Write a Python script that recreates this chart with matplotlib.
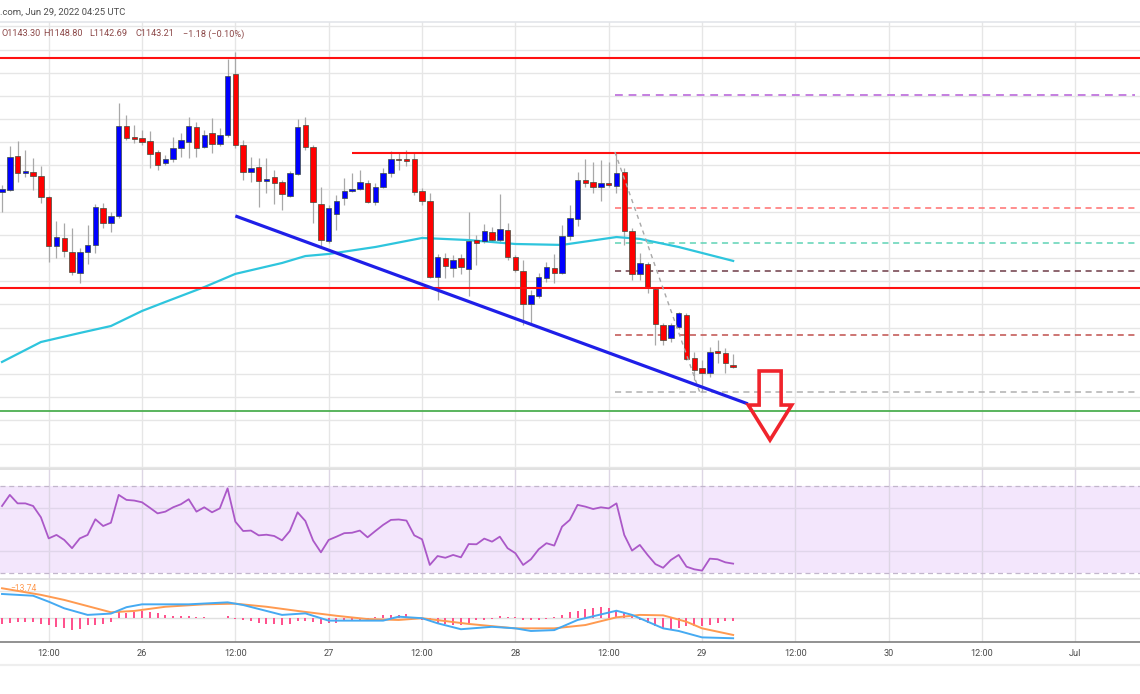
import matplotlib
matplotlib.use('Agg')
import matplotlib.pyplot as plt
from matplotlib.patches import Polygon
from matplotlib.lines import Line2D
from matplotlib.transforms import blended_transform_factory
import numpy as np

# ---------------- data ----------------
hours = list(range(-18, 77))   # hours relative to Jun 26 00:00 UTC (1h candles)
opens = [1218.6, 1219.4, 1234.1, 1226.8, 1227.2, 1225.5, 1216.4, 1195.2, 1198.7, 1192.7,
         1183.6, 1192.7, 1195.7, 1211.6, 1205.2, 1208.2, 1247.0, 1242.3, 1241.9, 1240.6,
         1235.8, 1231.1, 1232.8, 1237.5, 1240.1, 1246.6, 1238.0, 1244.0, 1239.3, 1243.2,
         1269.5, 1238.8, 1227.2, 1229.3, 1223.3, 1225.0, 1222.9, 1216.8, 1226.3, 1247.5,
         1238.0, 1213.4, 1197.4, 1209.1, 1216.0, 1219.0, 1219.8, 1222.4, 1214.2, 1220.7,
         1226.8, 1232.6, 1232.8, 1232.8, 1219.0, 1214.7, 1181.9, 1190.1, 1185.7, 1190.1,
         1185.3, 1197.8, 1197.4, 1201.3, 1197.8, 1202.2, 1190.5, 1184.5, 1170.2, 1173.7,
         1181.4, 1185.7, 1183.6, 1199.6, 1206.9, 1223.7, 1222.9, 1220.7, 1222.4, 1221.1,
         1227.2, 1201.7, 1183.2, 1187.5, 1176.7, 1161.1, 1155.5, 1160.3, 1165.5, 1146.9,
         1142.6, 1140.4, 1149.9, 1149.1, 1143.30]
highs = [1221.6, 1238.4, 1240.6, 1236.7, 1233.2, 1229.8, 1216.8, 1206.0, 1205.2, 1203.0,
         1194.4, 1204.3, 1213.4, 1213.8, 1209.9, 1257.0, 1251.8, 1247.5, 1245.3, 1244.9,
         1236.7, 1234.5, 1242.3, 1244.0, 1250.9, 1248.8, 1245.3, 1250.5, 1246.2, 1276.0,
         1279.0, 1241.0, 1233.7, 1233.2, 1233.2, 1228.0, 1223.7, 1227.6, 1250.1, 1250.9,
         1238.8, 1220.7, 1212.9, 1217.3, 1224.6, 1226.8, 1228.0, 1223.7, 1222.4, 1228.9,
         1236.2, 1235.4, 1236.7, 1235.8, 1220.3, 1218.1, 1191.8, 1192.2, 1191.4, 1191.8,
         1209.9, 1200.0, 1204.7, 1203.4, 1217.7, 1205.2, 1191.4, 1189.2, 1176.3, 1183.6,
         1188.3, 1191.8, 1204.3, 1212.9, 1227.2, 1232.8, 1231.5, 1232.4, 1231.5, 1235.8,
         1228.9, 1203.0, 1192.2, 1188.3, 1177.1, 1162.0, 1162.0, 1166.8, 1166.3, 1149.5,
         1146.0, 1151.7, 1154.7, 1151.2, 1148.80]
lows = [1209.9, 1219.0, 1222.9, 1225.0, 1219.4, 1213.8, 1188.3, 1190.1, 1190.5, 1182.7,
        1179.3, 1187.5, 1192.2, 1203.0, 1201.3, 1207.3, 1241.0, 1239.7, 1238.8, 1228.9,
        1228.0, 1230.2, 1231.5, 1233.7, 1233.2, 1233.7, 1237.5, 1235.4, 1238.4, 1242.3,
        1237.5, 1223.7, 1222.9, 1212.1, 1218.1, 1213.4, 1210.8, 1216.4, 1225.9, 1236.7,
        1205.2, 1195.2, 1196.5, 1202.2, 1212.9, 1218.6, 1219.4, 1213.8, 1212.9, 1220.3,
        1225.0, 1228.0, 1229.8, 1217.3, 1212.9, 1181.4, 1171.9, 1181.4, 1181.9, 1183.2,
        1173.7, 1187.0, 1196.5, 1197.0, 1196.5, 1189.2, 1184.0, 1161.1, 1162.0, 1172.8,
        1179.7, 1179.3, 1183.2, 1197.8, 1203.9, 1220.7, 1218.1, 1214.7, 1220.7, 1218.1,
        1195.7, 1180.6, 1180.6, 1175.0, 1152.5, 1152.5, 1153.8, 1159.4, 1146.0, 1137.4,
        1132.2, 1138.7, 1144.7, 1140.4, 1142.69]
closes = [1219.8, 1233.7, 1226.8, 1227.6, 1225.5, 1216.4, 1195.2, 1199.1, 1193.1, 1184.0,
          1192.7, 1195.7, 1212.1, 1205.2, 1208.2, 1247.0, 1241.9, 1241.4, 1240.1, 1235.0,
          1230.2, 1232.8, 1237.5, 1241.0, 1247.0, 1237.5, 1243.2, 1239.3, 1243.2, 1268.6,
          1238.8, 1227.2, 1228.9, 1223.3, 1224.2, 1222.4, 1217.7, 1226.8, 1246.6, 1238.0,
          1214.2, 1197.8, 1211.6, 1214.7, 1219.0, 1219.8, 1222.9, 1214.2, 1220.7, 1226.8,
          1232.8, 1232.4, 1231.9, 1218.6, 1214.7, 1181.9, 1190.5, 1186.6, 1189.2, 1186.2,
          1197.4, 1196.5, 1201.7, 1197.8, 1202.6, 1190.5, 1184.9, 1170.2, 1174.1, 1181.9,
          1186.2, 1183.6, 1199.6, 1207.3, 1223.7, 1222.4, 1220.7, 1222.4, 1221.6, 1226.8,
          1201.7, 1183.2, 1187.9, 1177.1, 1161.6, 1154.7, 1161.1, 1166.3, 1146.5, 1141.7,
          1140.4, 1149.5, 1149.1, 1144.7, 1143.21]

ma_hours = [-18, -13, -8, -4, 0, 3, 8, 12, 18, 21, 24, 30, 36, 42, 48, 54, 61, 64, 69, 76]
ma_values = [1145.2, 1153.8, 1157.7, 1160.7, 1167.2, 1171.1, 1177.5, 1183.2, 1187.9, 1190.9,
             1191.8, 1194.8, 1198.7, 1197.8, 1196.1, 1195.7, 1199.1, 1198.3, 1194.8, 1188.8]

rsi_values = [60.8, 65.9, 62.0, 62.0, 60.8, 55.6, 45.9, 47.5, 45.2, 41.4,
              45.9, 47.5, 54.7, 51.6, 53.1, 65.9, 63.6, 63.3, 62.5, 60.0,
              57.4, 58.2, 60.2, 61.6, 63.9, 58.2, 60.2, 57.9, 59.7, 68.9,
              53.6, 49.3, 49.5, 47.3, 47.6, 47.0, 45.0, 49.3, 57.9, 53.9,
              44.9, 39.5, 45.2, 46.7, 48.3, 48.5, 49.5, 46.4, 49.3, 52.1,
              54.4, 54.6, 54.1, 47.3, 45.5, 33.7, 37.8, 37.0, 38.3, 37.2,
              43.3, 43.2, 45.8, 44.4, 46.7, 41.4, 39.1, 33.7, 36.3, 40.9,
              43.7, 42.6, 51.3, 54.4, 61.3, 60.5, 59.4, 60.2, 59.7, 62.0,
              47.5, 40.3, 42.9, 38.3, 34.1, 32.4, 36.0, 38.3, 32.9, 31.7,
              31.1, 36.6, 36.3, 34.9, 34.3]

hist_values = [-2.6, -2.3, -2.0, -2.0, -1.8, -2.6, -3.3, -4.1, -4.5, -5.6,
               -5.2, -3.3, -3.0, -2.6, -1.8, 2.7, 2.3, 2.7, 3.2, 2.7,
               2.3, 1.5, 1.1, 0.8, 0.8, 0.5, 0.5, 0.2, 0.2, 0.9,
               -0.3, -0.8, -1.4, -2.3, -2.6, -2.9, -3.3, -2.6, -1.4, -1.4,
               -1.8, -2.6, -2.3, -2.1, -1.4, -0.8, -0.8, -0.5, 0.5, 1.2,
               1.3, 1.5, 1.8, 0.3, -0.8, -1.5, -2.3, -2.6, -3.3, -3.0,
               -2.3, -1.1, -0.8, -0.3, 1.1, 0.5, 0.5, -0.8, -1.1, -0.8,
               -0.3, 0.6, 1.4, 2.5, 3.4, 4.0, 4.7, 4.8, 4.4, 3.6,
               2.1, 1.4, -0.8, -2.3, -3.8, -4.5, -5.0, -4.5, -3.8, -3.8,
               -3.8, -3.0, -2.3, -1.5, -1.2]

macd_hours = [-18, -14, -12, -10, -7, -4, -2, 0, 6, 11, 13, 16, 18, 21, 23, 24, 31, 33, 36,
              38, 41, 45, 48, 50, 53, 56, 61, 63, 67, 69, 72, 76]
macd_values = [10.9, 10.1, 7.4, 4.4, 1.4, 2.0, 4.9, 6.2, 6.2, 7.1, 5.9, 3.2, 1.4, 2.1, -0.1,
               -1.2, -1.2, 0.6, -0.1, -2.4, -5.1, -4.0, -4.7, -5.9, -5.5, -0.9, 3.3, 1.4,
               -4.7, -5.9, -8.8, -9.2]
signal_hours = [-18, -13, -10, -4, -1, 3, 8, 12, 16, 20, 25, 29, 33, 36, 42, 48, 53, 57, 61,
                64, 67, 70, 72, 76]
signal_values = [13.5, 10.5, 8.2, 2.6, 3.2, 5.1, 6.2, 6.5, 5.1, 3.2, 1.0, -0.5, -0.9, -0.1,
                 -2.7, -4.7, -4.7, -3.2, 0.3, 1.4, 1.2, -1.7, -4.7, -7.7]

# horizontal levels
red_levels_full = [1276.4, 1177.1]
red_level_partial = 1235.4
red_partial_start = 27.0
green_level = 1124.0
fib_start = 60.8
fib_levels = [1260.4, 1235.4, 1211.6, 1196.5, 1184.5, 1156.8, 1132.2]
fib_colors = ['#c47fe0', '#8aa6c8', '#ff6f6f', '#5fd3b5', '#6e3b46', '#c0504d', '#b0b0b0']
fib_diag_h = [60.8, 71.7]
fib_diag_p = [1235.8, 1132.2]
trend_h = [12.0, 77.9]
trend_p = [1208.2, 1127.1]
arrow_h = [79.34, 82.17, 82.17, 83.53, 80.74, 77.95, 79.34]
arrow_p = [1141.3, 1141.3, 1126.6, 1126.6, 1111.5, 1126.6, 1126.6]

tick_hours = [-12, 0, 12, 24, 36, 48, 60, 72, 84, 96, 108, 120]
tick_labels = ['12:00', '26', '12:00', '27', '12:00', '28', '12:00', '29', '12:00', '30', '12:00', 'Jul']

header_text = '.com, Jun 29, 2022 04:25 UTC'
ohlc_parts = ['O1143.30', 'H1148.80', 'L1142.69', 'C1143.21', '\u22121.18 (\u22120.10%)']
macd_label = '\u221213.74'

# ---------------- layout ----------------
W, H = 1140, 694
fig = plt.figure(figsize=(W / 100, H / 100), dpi=100)
fig.patch.set_facecolor('white')
XMIN, XMAX = -18.26, 128.31
GRID = '#e6e6e6'
FONT = 'Roboto'


def rect(y0, y1):
    return [0, 1 - y1 / H, 1, (y1 - y0) / H]


def prep(ax, gridcolor=GRID, z=0):
    ax.set_xlim(XMIN, XMAX)
    ax.set_axis_off()
    for th in tick_hours:
        ax.axvline(th, color=gridcolor, lw=1.0, zorder=z)


# ---- main price pane ----
ax = fig.add_axes(rect(22, 469))
prep(ax)
ax.set_ylim(1099.0, 1291.9)
for p in range(1100, 1291, 10):
    ax.axhline(p, color=GRID, lw=1.0, zorder=0)

O = np.array(opens); Hh = np.array(highs); L = np.array(lows); C = np.array(closes)
up = C >= O
cols = np.where(up, '#0000ff', '#ff0000')
ax.vlines(hours, L, Hh, color='#a8a8a8', lw=0.9, zorder=3)
body = np.maximum(np.abs(C - O), 0.5)
ax.bar(hours, body, bottom=np.minimum(O, C), width=0.7, color=cols,
       edgecolor='#3d4d3d', linewidth=0.5, zorder=4)

for lv in red_levels_full:
    ax.axhline(lv, color='#ff1010', lw=1.5, zorder=5)
for lv, c in zip(fib_levels, fib_colors):
    ax.hlines(lv, fib_start, 127.7, color=c, lw=1.1 if c != '#c47fe0' else 1.4,
              linestyles=(0, (4, 3)), zorder=2)
ax.hlines(red_level_partial, red_partial_start, XMAX, color='#ff1010', lw=1.5, zorder=5)
ax.axhline(green_level, color='#4caf50', lw=1.3, zorder=2)
ax.plot(fib_diag_h, fib_diag_p, color='#a8a8a8', lw=1.0, ls=(0, (3, 3)), zorder=5)
ax.plot(ma_hours, ma_values, color='#2ec5dd', lw=1.6, zorder=3)
ax.plot(trend_h, trend_p, color='#1f1fe8', lw=2.3, zorder=6, solid_capstyle='butt')
ax.add_patch(Polygon(list(zip(arrow_h, arrow_p)), closed=True, fill=False,
                     edgecolor='#f0242c', lw=2.6, joinstyle='miter', zorder=7))

# ---- RSI pane ----
ax2 = fig.add_axes(rect(469, 579))
prep(ax2, gridcolor='#ddd6e4', z=1)
ax2.set_ylim(27.24, 77.8)
ax2.axhspan(30, 70, color='#f3e6fc', zorder=0.2, lw=0)
for lv in (60, 40):
    ax2.axhline(lv, color='#e0d6ea', lw=1.0, zorder=1)
for lv in (70, 30):
    ax2.axhline(lv, color='#c2b6cc', lw=0.9, ls=(0, (4, 3)), zorder=1.5)
ax2.plot(hours, rsi_values, color='#ab58c8', lw=1.3, zorder=3)

# ---- MACD pane ----
ax3 = fig.add_axes(rect(579, 642))
prep(ax3)
ax3.set_ylim(-10.9, 17.7)
ax3.axhline(12.3, color=GRID, lw=1.0, zorder=0)
ax3.axhline(0, color='#e0e0e0', lw=1.0, zorder=0)
ax3.vlines(hours, 0, hist_values, color='#ff4f8b', lw=1.4, zorder=2)
ax3.plot(signal_hours, signal_values, color='#ff9a50', lw=1.4, zorder=3)
ax3.plot(macd_hours, macd_values, color='#45aaf2', lw=1.4, zorder=4)
ax3.text(10 / 1140 * (XMAX - XMIN) + XMIN, 13.6, macd_label, color='#ff9a50',
         fontsize=6.2, family=FONT, va='center', ha='left', zorder=5)

tr = blended_transform_factory(ax3.transData, ax3.transAxes)
for th, lab in zip(tick_hours, tick_labels):
    ax3.text(th, -11 / 63, lab, transform=tr, ha='center', va='center', family=FONT,
             fontsize=6.6, color='#4a4a4a', clip_on=False)

# ---- separators ----
def hline_px(y, color, lw):
    fig.add_artist(Line2D([0, 1], [1 - y / H, 1 - y / H], color=color, lw=lw,
                          transform=fig.transFigure))

hline_px(22, '#e3e5ea', 1.2)
hline_px(469, '#dcdcdc', 1.2)
hline_px(579, '#dcdcdc', 1.2)
hline_px(642, '#7f7f7f', 1.2)
hline_px(665, '#eeeeee', 1.6)

# ---- header texts ----
fig.text(0 / W, 1 - 12 / H, header_text, fontsize=6.8, family=FONT, color='#4d4d4d',
         va='center', ha='left')
ohlc_x = [1, 43, 89, 136, 183]
for xp, t in zip(ohlc_x, ohlc_parts):
    fig.text(xp / W, 1 - 34 / H, t, fontsize=6.6, family=FONT, color='#8c4848',
             va='center', ha='left')

fig.savefig('out.png', dpi=100, facecolor='white')
